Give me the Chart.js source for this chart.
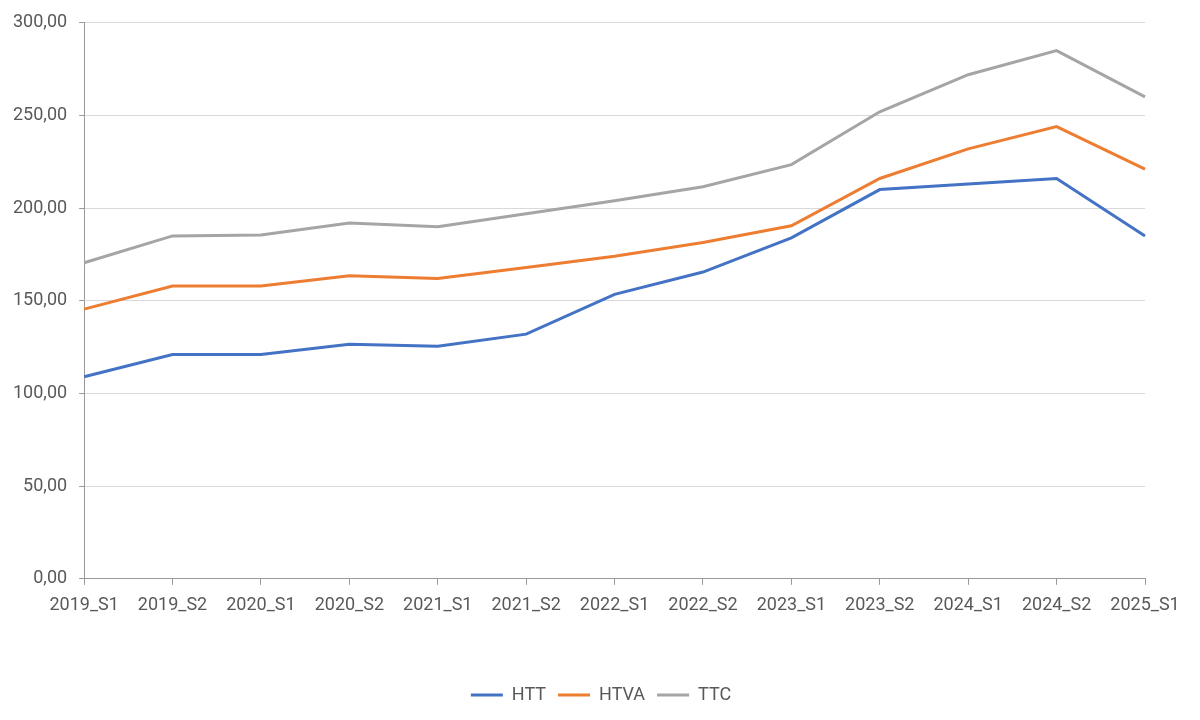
<!DOCTYPE html>
<html>
<head>
<meta charset="utf-8">
<script src="https://cdn.jsdelivr.net/npm/chart.js"></script>
<style>
  html, body { margin: 0; padding: 0; background: #fff; }
  #wrap { width: 1200px; height: 720px; }
</style>
</head>
<body>
<div id="wrap"><canvas id="chart" width="1200" height="720"></canvas></div>
<script>
// Semestres
const categories = ['2019_S1', '2019_S2', '2020_S1', '2020_S2', '2021_S1', '2021_S2', '2022_S1',
  '2022_S2', '2023_S1', '2023_S2', '2024_S1', '2024_S2', '2025_S1'];

// Valeurs
const httValues = [109, 121, 121, 126.5, 125.5, 132, 153.5, 165.5, 184, 210, 213, 216, 185];
const htvaValues = [145.5, 158, 158, 163.5, 162, 168, 174, 181.5, 190.5, 216, 232, 244, 221];
const ttcValues = [170.5, 185, 185.5, 192, 190, 197, 204, 211.5, 223.5, 252, 272, 285, 260];

const yTicks = [0, 50, 100, 150, 200, 250, 300];

const textColor = '#595959';
const font = { family: 'Roboto', size: 18 };

const ctx = document.getElementById('chart').getContext('2d');
new Chart(ctx, {
  type: 'line',
  data: {
    labels: categories,
    datasets: [
      { label: 'HTT', data: httValues, borderColor: '#4472C4', backgroundColor: '#4472C4' },
      { label: 'HTVA', data: htvaValues, borderColor: '#ED7D31', backgroundColor: '#ED7D31' },
      { label: 'TTC', data: ttcValues, borderColor: '#A5A5A5', backgroundColor: '#A5A5A5' },
    ],
  },
  options: {
    responsive: false,
    animation: false,
    devicePixelRatio: 1,
    elements: {
      line: { borderWidth: 3, tension: 0 },
      point: { radius: 0 },
    },
    layout: { padding: { left: 1, right: 55, top: 6, bottom: 6 } },
    scales: {
      x: {
        offset: false,
        grid: { drawOnChartArea: false, drawTicks: true, tickLength: 6, color: '#999999' },
        border: { color: '#999999', width: 1 },
        ticks: { color: textColor, font: font, padding: 10, maxRotation: 0, autoSkip: false },
      },
      y: {
        min: 0,
        max: 300,
        afterBuildTicks: (scale) => { scale.ticks = yTicks.map(v => ({ value: v })); },
        grid: { color: '#d9d9d9', tickLength: 5, tickColor: '#999999' },
        border: { color: '#999999', width: 1 },
        ticks: {
          color: textColor,
          font: font,
          padding: 12,
          callback: (v) => v.toFixed(2).replace('.', ','),
        },
      },
    },
    plugins: {
      tooltip: { enabled: false },
      legend: {
        position: 'bottom',
        title: { display: true, text: ' ', font: font, padding: { top: 26, bottom: 0 } },
        labels: {
          color: textColor,
          font: font,
          boxWidth: 32,
          boxHeight: 3,
          padding: 12,
          generateLabels: (chart) => Chart.defaults.plugins.legend.labels.generateLabels(chart)
            .map(l => Object.assign(l, { lineWidth: 0, fillStyle: l.strokeStyle })),
        },
      },
    },
  },
  plugins: [{
    // recentrer la légende sur la largeur de la page
    id: 'legendShift',
    afterLayout(chart) {
      chart.legend.left += 28;
      chart.legend.right += 28;
    },
  }],
});
</script>
</body>
</html>
